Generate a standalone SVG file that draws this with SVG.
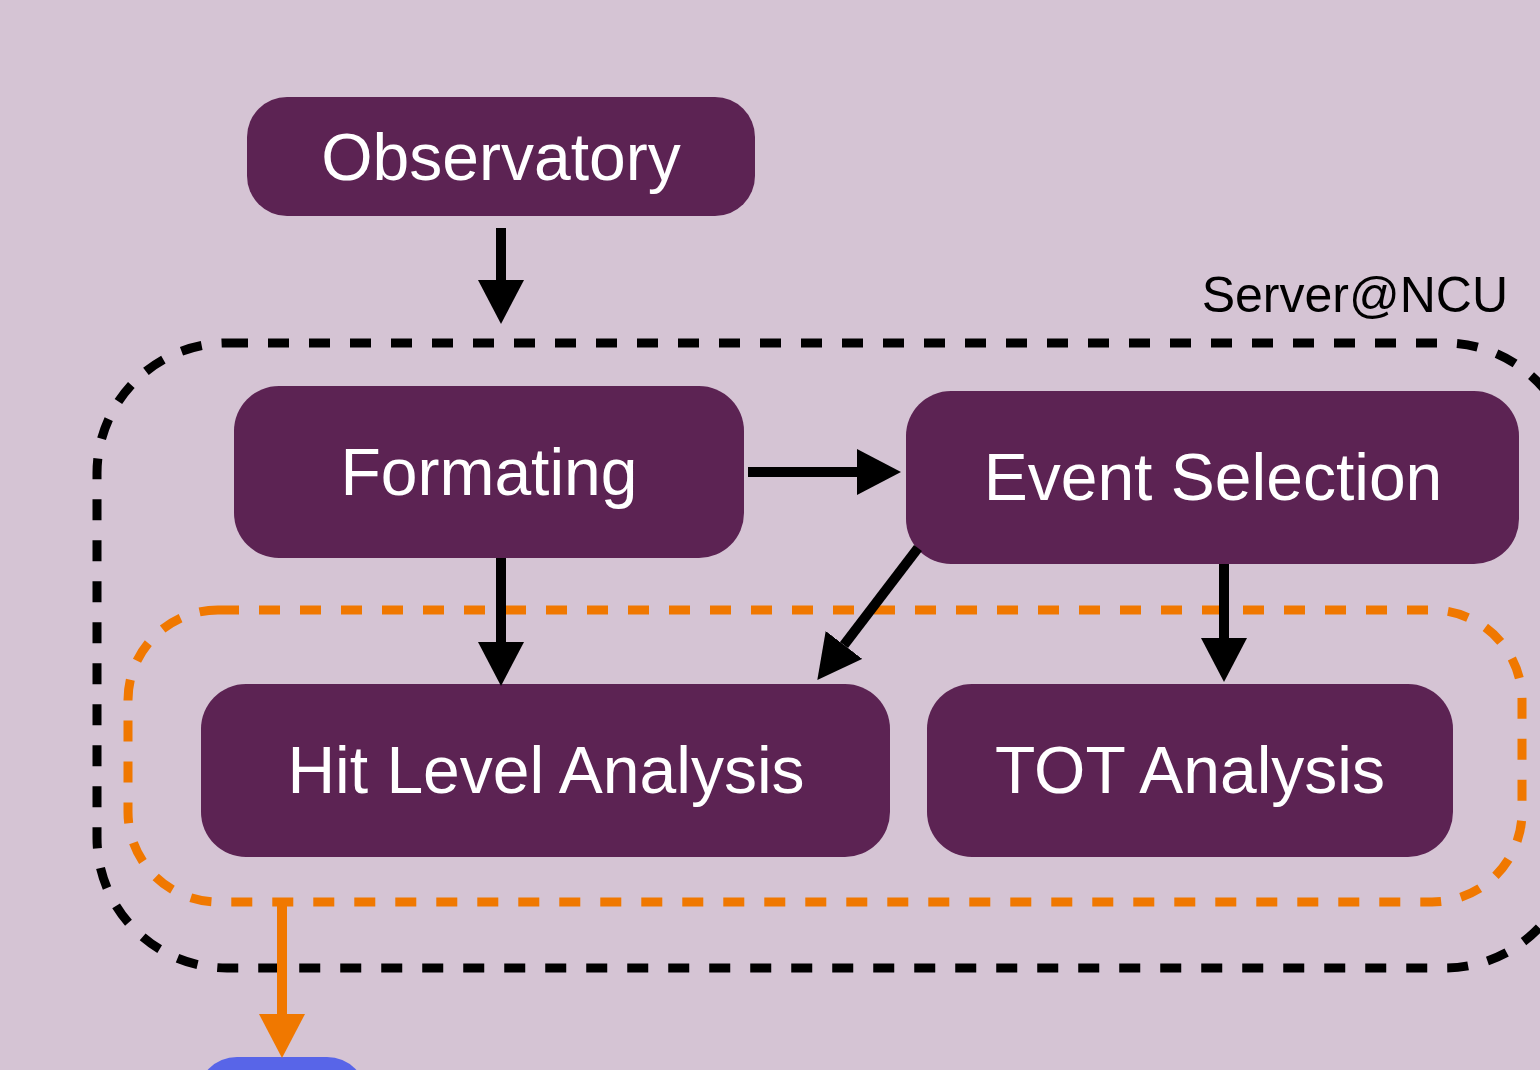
<svg xmlns="http://www.w3.org/2000/svg" width="1540" height="1070" viewBox="0 0 1540 1070">
<style>
.node{fill:#5c2353}
.lbl{fill:#ffffff;font-family:"Liberation Sans",Arial,sans-serif;font-size:66px;text-anchor:middle}
.conn{stroke:#000;stroke-width:10;fill:none}
.oconn{stroke:#f07800;stroke-width:10;fill:none}
</style>
<defs>
<marker id="ah" viewBox="0 0 44 46" markerWidth="4.4" markerHeight="4.6" refX="0" refY="23" orient="auto" markerUnits="strokeWidth"><path d="M0,0 L44,23 L0,46 Z" fill="#000"/></marker>
<marker id="aho" viewBox="0 0 44 46" markerWidth="4.4" markerHeight="4.6" refX="0" refY="23" orient="auto" markerUnits="strokeWidth"><path d="M0,0 L44,23 L0,46 Z" fill="#f07800"/></marker>
</defs>
<rect width="1540" height="1070" fill="#d5c4d4"/>
<g id="server-group">
<rect x="97" y="343" width="1478" height="625" rx="130" ry="130" fill="none" stroke="#000" stroke-width="9" stroke-dasharray="21 20"/>
<text x="1508" y="312" font-family="'Liberation Sans',Arial,sans-serif" font-size="50" text-anchor="end" fill="#000">Server@NCU</text>
</g>
<g id="analysis-group">
<rect x="128" y="610" width="1394" height="292" rx="90" ry="90" fill="none" stroke="#f07800" stroke-width="9" stroke-dasharray="21 20"/>
</g>
<g id="observatory"><rect class="node" x="247" y="97" width="508" height="119" rx="40"/><text class="lbl" x="501" y="180">Observatory</text></g>
<g id="formating"><rect class="node" x="234" y="386" width="510" height="172" rx="45"/><text class="lbl" x="489" y="495">Formating</text></g>
<g id="event-selection"><rect class="node" x="906" y="391" width="613" height="173" rx="45"/><text class="lbl" x="1213" y="500">Event Selection</text></g>
<g id="hit-level-analysis"><rect class="node" x="201" y="684" width="689" height="173" rx="45"/><text class="lbl" x="546" y="793">Hit Level Analysis</text></g>
<g id="tot-analysis"><rect class="node" x="927" y="684" width="526" height="173" rx="45"/><text class="lbl" x="1190" y="793">TOT Analysis</text></g>
<g id="output-node"><rect x="197" y="1057" width="170" height="100" rx="40" fill="#5865e8"/></g>
<g id="connectors">
<line class="conn" x1="501" y1="228" x2="501" y2="280" marker-end="url(#ah)"/>
<line class="conn" x1="748" y1="472" x2="857" y2="472" marker-end="url(#ah)"/>
<line class="conn" x1="501" y1="558" x2="501" y2="642" marker-end="url(#ah)"/>
<line class="conn" x1="1224" y1="564" x2="1224" y2="638" marker-end="url(#ah)"/>
<line class="conn" x1="918" y1="548" x2="844" y2="645" marker-end="url(#ah)"/>
<line class="oconn" x1="282" y1="905" x2="282" y2="1014" marker-end="url(#aho)"/>
</g>
</svg>
